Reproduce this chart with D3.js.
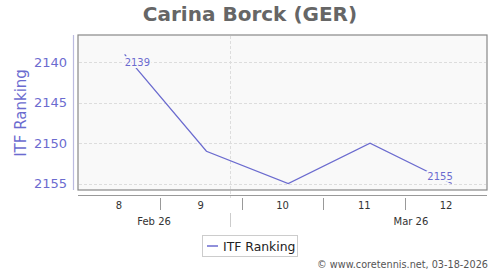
<!DOCTYPE html>
<html>
<head>
<meta charset="utf-8">
<script src="https://cdn.jsdelivr.net/npm/d3@7"></script>
<style>
  body { margin: 0; background: #fff; }
  text { font-family: "DejaVu Sans", sans-serif; }
</style>
</head>
<body>
<svg id="chart" width="500" height="270"></svg>
<script>
'use strict';

var weeks = [8, 9, 10, 11, 12];
var ranking = [2139, 2151, 2155, 2150, 2155];
var yTicks = [2140, 2145, 2150, 2155];
var months = [{label: 'Feb 26', at: 8.43}, {label: 'Mar 26', at: 11.57}];
var monthBreak = 9.36;
var labelled = [0, 4];

var lineColor = '#6b6bcf';
var svg = d3.select('#chart');

var x = d3.scaleLinear().domain([7.5, 12.5]).range([78, 487]);
var y = d3.scaleLinear().domain([2136.6, 2155.8]).range([35, 190]);
var pointShift = 0.07;

// title
svg.append('text')
  .attr('x', 250).attr('y', 20.5)
  .attr('text-anchor', 'middle')
  .style('font-size', '20px').style('font-weight', 'bold')
  .attr('fill', '#666')
  .text('Carina Borck (GER)');

// plot area
svg.append('rect')
  .attr('x', x(7.5)).attr('y', 35)
  .attr('width', x(12.5) - x(7.5)).attr('height', 155)
  .attr('fill', '#f9f9f9').attr('stroke', '#888').attr('stroke-width', 1.2);

var grid = svg.append('g')
  .attr('stroke', '#ddd').attr('stroke-dasharray', '3,2').attr('stroke-width', 1);
grid.selectAll('line.h').data(yTicks).enter().append('line')
  .attr('x1', x(7.5) + 1).attr('x2', x(12.5) - 1)
  .attr('y1', function(d) { return Math.round(y(d)) + 0.5; })
  .attr('y2', function(d) { return Math.round(y(d)) + 0.5; });
grid.append('line')
  .attr('x1', Math.round(x(monthBreak)) + 0.5).attr('x2', Math.round(x(monthBreak)) + 0.5)
  .attr('y1', 36).attr('y2', 198);

// y axis
svg.append('line')
  .attr('x1', 73.5).attr('x2', 73.5).attr('y1', 35).attr('y2', 190)
  .attr('stroke', '#bbbbe0').attr('stroke-width', 1.2);
svg.append('g').selectAll('text').data(yTicks).enter().append('text')
  .attr('x', 67).attr('y', function(d) { return y(d); })
  .attr('dy', '0.35em').attr('text-anchor', 'end')
  .style('font-size', '13px').attr('fill', '#6b6bcf')
  .text(function(d) { return d; });
svg.append('text')
  .attr('transform', 'translate(26,113) rotate(-90)')
  .attr('text-anchor', 'middle')
  .style('font-size', '15px').attr('fill', '#6b6bcf')
  .text('ITF Ranking');

// x axis
svg.append('line')
  .attr('x1', x(7.5)).attr('x2', x(12.5)).attr('y1', 195.5).attr('y2', 195.5)
  .attr('stroke', '#999').attr('stroke-width', 1.2);
svg.append('g').selectAll('line').data(weeks.slice(0, -1)).enter().append('line')
  .attr('x1', function(d) { return Math.round(x(d + 0.5)) + 0.5; })
  .attr('x2', function(d) { return Math.round(x(d + 0.5)) + 0.5; })
  .attr('y1', 198).attr('y2', 210)
  .attr('stroke', '#999');
svg.append('g').selectAll('text').data(weeks).enter().append('text')
  .attr('x', function(d) { return x(d); }).attr('y', 209)
  .attr('text-anchor', 'middle')
  .style('font-size', '10px').attr('fill', '#333')
  .text(function(d) { return d; });
svg.append('line')
  .attr('x1', Math.round(x(monthBreak)) + 0.5).attr('x2', Math.round(x(monthBreak)) + 0.5)
  .attr('y1', 213).attr('y2', 227)
  .attr('stroke', '#ccc');
svg.append('g').selectAll('text').data(months).enter().append('text')
  .attr('x', function(d) { return x(d.at); }).attr('y', 224.5)
  .attr('text-anchor', 'middle')
  .style('font-size', '10px').attr('fill', '#333')
  .text(function(d) { return d.label; });

// series line
var line = d3.line()
  .x(function(d, i) { return x(weeks[i] + pointShift); })
  .y(function(d) { return y(d); });
svg.append('path')
  .datum(ranking)
  .attr('d', line)
  .attr('fill', 'none').attr('stroke', lineColor).attr('stroke-width', 1.3);

// point labels
svg.append('g').selectAll('text').data(labelled).enter().append('text')
  .attr('x', function(i) { return x(weeks[i] + pointShift) + (i === 0 ? 0 : 1); })
  .attr('y', function(i) { return y(ranking[i]) + (i === 0 ? 12 : -4); })
  .attr('text-anchor', function(i) { return i === 0 ? 'start' : 'end'; })
  .style('font-size', '10px')
  .style('paint-order', 'stroke')
  .attr('stroke', '#f9f9f9').attr('stroke-width', 4).attr('stroke-linejoin', 'round')
  .attr('fill', lineColor)
  .text(function(i) { return ranking[i]; });

// legend
var legend = svg.append('g');
legend.append('rect')
  .attr('x', 202.5).attr('y', 235.5).attr('width', 95).attr('height', 21)
  .attr('fill', '#fff').attr('stroke', '#ccc');
legend.append('line')
  .attr('x1', 207).attr('x2', 218).attr('y1', 246).attr('y2', 246)
  .attr('stroke', lineColor).attr('stroke-width', 1.5);
legend.append('text')
  .attr('x', 223).attr('y', 250.5)
  .style('font-size', '12.4px').attr('fill', '#222')
  .text('ITF Ranking');

// credit
svg.append('text')
  .attr('x', 488).attr('y', 267.5)
  .attr('text-anchor', 'end')
  .style('font-size', '9.7px').attr('fill', '#555')
  .text('\u00a9 www.coretennis.net, 03-18-2026');
</script>
</body>
</html>
